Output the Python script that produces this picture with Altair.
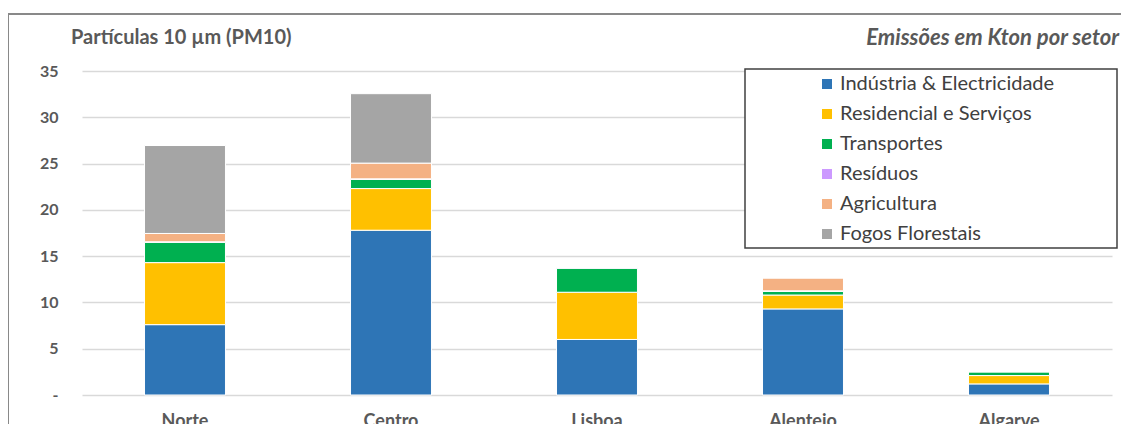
import altair as alt
import pandas as pd

regions = ["Norte", "Centro", "Lisboa", "Alentejo", "Algarve"]
sectors = ["Indústria & Electricidade", "Residencial e Serviços", "Transportes",
           "Resíduos", "Agricultura", "Fogos Florestais"]
colors = ["#2E75B6", "#FFC000", "#00B050", "#CC99FF", "#F4B183", "#A5A5A5"]

industria = [7.6, 17.8, 6.0, 9.3, 1.2]
residencial = [6.7, 4.5, 5.1, 1.5, 0.9]
transportes = [2.2, 1.0, 2.6, 0.4, 0.4]
residuos = [0.05, 0.05, 0.05, 0.05, 0.02]
agricultura = [0.9, 1.7, 0.05, 1.4, 0.05]
fogos = [9.5, 7.5, 0.0, 0.0, 0.0]

series = [industria, residencial, transportes, residuos, agricultura, fogos]
rows = []
for si, (s, vals) in enumerate(zip(sectors, series)):
    for r, v in zip(regions, vals):
        rows.append({"regiao": r, "setor": s, "valor": v, "ordem": si})
df = pd.DataFrame(rows)

FONT = "Lato"
GREY = "#595959"

bars = alt.Chart(df).mark_bar(stroke="white", strokeWidth=1).encode(
    x=alt.X("regiao:N", sort=regions, title=None,
            scale=alt.Scale(paddingInner=0.607, paddingOuter=0.3035),
            axis=alt.Axis(labelAngle=0, labelFont=FONT, labelFontSize=18,
                          labelFontWeight="bold", labelColor=GREY, ticks=False,
                          domain=False, labelPadding=17)),
    y=alt.Y("valor:Q", title=None,
            scale=alt.Scale(domain=[0, 35], nice=False),
            axis=alt.Axis(values=[0, 5, 10, 15, 20, 25, 30, 35],
                          labelExpr="datum.value == 0 ? '-' : datum.label",
                          labelFont=FONT, labelFontSize=16, labelFontWeight="bold",
                          labelColor=GREY, ticks=False, domain=False,
                          labelPadding=24, gridColor="#D9D9D9", gridWidth=1.3)),
    color=alt.Color("setor:N", sort=sectors,
                    scale=alt.Scale(domain=sectors, range=colors),
                    legend=alt.Legend(title=None, orient="none", legendX=735, legendY=3,
                                      symbolType="square", symbolSize=100,
                                      symbolStrokeWidth=0, labelFont=FONT,
                                      labelFontSize=20, labelColor="#404040",
                                      labelOffset=3, rowPadding=10, padding=0,
                                      labelLimit=400)),
    order=alt.Order("ordem:Q", sort="ascending"),
)

box = alt.Chart(pd.DataFrame({"a": [0]})).mark_rect(
    fill="white", stroke="#404040", strokeWidth=1.5
).encode(x=alt.value(663), x2=alt.value(1035), y=alt.value(-2), y2=alt.value(177))

frame = alt.Chart(pd.DataFrame({"a": [0]})).mark_rect(
    filled=False, stroke="#898989", strokeWidth=2
).encode(x=alt.value(-74), x2=alt.value(1200), y=alt.value(-57), y2=alt.value(600))

title_left = alt.Chart(pd.DataFrame({"t": ["Partículas 10 µm (PM10)"]})).mark_text(
    align="left", baseline="middle", font=FONT, fontSize=20, fontWeight="bold", color=GREY
).encode(text="t:N", x=alt.value(-11), y=alt.value(-33))

title_right = alt.Chart(pd.DataFrame({"t": ["Emissões em Kton por setor"]})).mark_text(
    align="right", baseline="middle", font=FONT, fontSize=22, fontWeight="bold",
    fontStyle="italic", color=GREY
).encode(text="t:N", x=alt.value(1037), y=alt.value(-33))

chart = alt.layer(frame, bars, box, title_left, title_right).properties(
    width=1030, height=324,
    padding={"left": 74, "top": 63, "right": 9, "bottom": 29},
    autosize=alt.AutoSizeParams(type="none"),
).configure_view(stroke=None)

chart.save("out.html", embed_options={"renderer": "svg", "actions": False})
